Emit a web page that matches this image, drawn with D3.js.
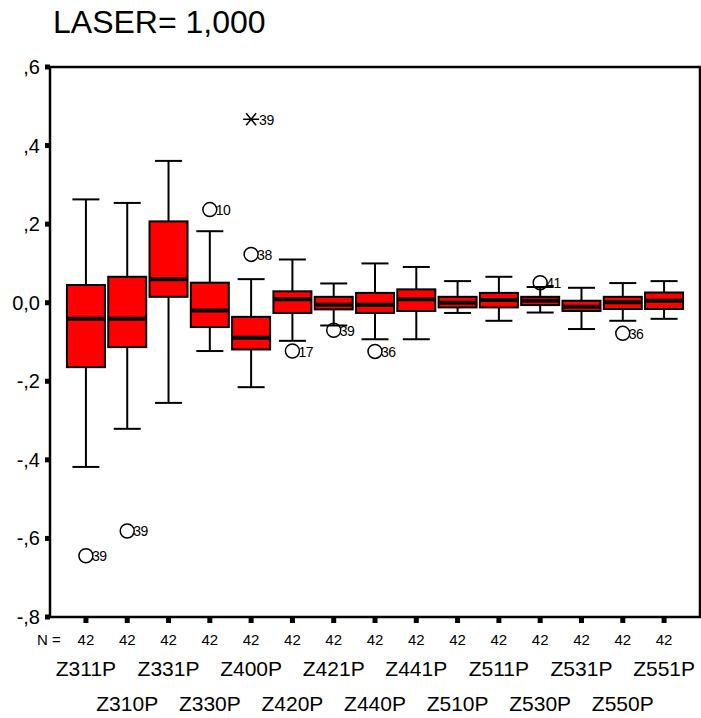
<!DOCTYPE html>
<html>
<head>
<meta charset="utf-8">
<script src="https://cdn.jsdelivr.net/npm/d3@7"></script>
<style>
  body { margin: 0; background: #fff; }
  text { font-family: "Liberation Sans", Arial, sans-serif; fill: #000; }
</style>
</head>
<body>
<figure id="chart" style="margin:0"></figure>
<script>
// categories in plotting order (labels alternate between two rows)
const categories = ["Z311P", "Z310P", "Z331P", "Z330P", "Z400P", "Z420P", "Z421P", "Z440P",
                    "Z441P", "Z510P", "Z511P", "Z530P", "Z531P", "Z550P", "Z551P"];
const nCounts    = [42, 42, 42, 42, 42, 42, 42, 42, 42, 42, 42, 42, 42, 42, 42];
const whiskerHi  = [0.263, 0.254, 0.361, 0.182, 0.060, 0.110, 0.049, 0.100, 0.091, 0.055, 0.066, 0.040, 0.038, 0.050, 0.055];
const q3         = [0.045, 0.066, 0.207, 0.051, -0.036, 0.029, 0.015, 0.025, 0.034, 0.015, 0.025, 0.015, 0.005, 0.015, 0.026];
const medians    = [-0.041, -0.041, 0.060, -0.020, -0.089, 0.009, -0.005, -0.005, 0.009, 0.000, 0.007, 0.005, -0.010, 0.001, 0.005];
const q1         = [-0.164, -0.113, 0.015, -0.062, -0.119, -0.026, -0.017, -0.026, -0.021, -0.012, -0.012, -0.006, -0.021, -0.016, -0.016];
const whiskerLo  = [-0.418, -0.321, -0.255, -0.123, -0.215, -0.097, -0.058, -0.093, -0.093, -0.026, -0.046, -0.025, -0.067, -0.046, -0.041];
// outliers: [category, value, case label]
const outliers = [
  ["Z311P", -0.644, "39"], ["Z310P", -0.581, "39"], ["Z330P", 0.237, "10"],
  ["Z400P", 0.123, "38"], ["Z420P", -0.123, "17"], ["Z421P", -0.070, "39"],
  ["Z440P", -0.124, "36"], ["Z530P", 0.051, "41"], ["Z550P", -0.078, "36"]
];
const extremes = [["Z400P", 0.467, "39"]];
const yTicks = [-0.8, -0.6, -0.4, -0.2, 0, 0.2, 0.4, 0.6];
const title = "LASER= 1,000";

const W = 701, H = 718;
const margin = {top: 67, right: 1, bottom: 101, left: 50};

const svg = d3.select("#chart").append("svg")
  .attr("width", W).attr("height", H);

const x = d3.scalePoint()
  .domain(categories)
  .range([margin.left, W - margin.right])
  .padding(0.87);

const y = d3.scaleLinear()
  .domain([-0.8, 0.6])
  .range([H - margin.bottom, margin.top]);

const fmt = v => v === 0 ? "0,0" : (v < 0 ? "-" : "") + "," + Math.round(Math.abs(v) * 10);

// title
svg.append("text")
  .attr("x", 53).attr("y", 33)
  .style("font-size", "32px")
  .text(title);

// frame
svg.append("rect")
  .attr("x", margin.left).attr("y", margin.top)
  .attr("width", W - margin.right - margin.left)
  .attr("height", H - margin.bottom - margin.top)
  .attr("fill", "none").attr("stroke", "#000").attr("stroke-width", 2.5);

// y ticks and labels
const yAxis = svg.append("g");
yAxis.selectAll("rect").data(yTicks).enter().append("rect")
  .attr("x", margin.left - 5).attr("y", d => y(d) - 2.5)
  .attr("width", 5).attr("height", 5).attr("fill", "#000");
yAxis.selectAll("text").data(yTicks).enter().append("text")
  .attr("x", 40).attr("y", d => y(d) + 7)
  .attr("text-anchor", "end")
  .style("font-size", "20px")
  .text(fmt);

// x ticks
const xAxis = svg.append("g");
const bottom = H - margin.bottom;
xAxis.selectAll("rect").data(categories).enter().append("rect")
  .attr("x", d => x(d) - 2.5).attr("y", bottom + 1)
  .attr("width", 5).attr("height", 5).attr("fill", "#000");

// N row
svg.append("text").attr("x", 37).attr("y", 645)
  .style("font-size", "15px").text("N =");
svg.append("g").selectAll("text").data(categories).enter().append("text")
  .attr("x", d => x(d)).attr("y", 645)
  .attr("text-anchor", "middle")
  .style("font-size", "15px")
  .text((d, i) => nCounts[i]);

// category labels in two staggered rows
svg.append("g").selectAll("text").data(categories).enter().append("text")
  .attr("x", d => x(d)).attr("y", (d, i) => i % 2 === 0 ? 676 : 711)
  .attr("text-anchor", "middle")
  .style("font-size", "21px")
  .text(d => d);

// boxes
const boxW = 38, capW = 27;
const boxes = svg.append("g").selectAll("g").data(categories).enter().append("g");

boxes.append("line")
  .attr("x1", d => x(d)).attr("x2", d => x(d))
  .attr("y1", (d, i) => y(whiskerHi[i])).attr("y2", (d, i) => y(whiskerLo[i]))
  .attr("stroke", "#000").attr("stroke-width", 2);
boxes.append("line")
  .attr("x1", d => x(d) - capW / 2).attr("x2", d => x(d) + capW / 2)
  .attr("y1", (d, i) => y(whiskerHi[i])).attr("y2", (d, i) => y(whiskerHi[i]))
  .attr("stroke", "#000").attr("stroke-width", 2);
boxes.append("line")
  .attr("x1", d => x(d) - capW / 2).attr("x2", d => x(d) + capW / 2)
  .attr("y1", (d, i) => y(whiskerLo[i])).attr("y2", (d, i) => y(whiskerLo[i]))
  .attr("stroke", "#000").attr("stroke-width", 2);
boxes.append("rect")
  .attr("x", d => x(d) - boxW / 2).attr("width", boxW)
  .attr("y", (d, i) => y(q3[i]))
  .attr("height", (d, i) => y(q1[i]) - y(q3[i]))
  .attr("fill", "#ff0000").attr("stroke", "#000").attr("stroke-width", 2);
boxes.append("line")
  .attr("x1", d => x(d) - boxW / 2 + 1).attr("x2", d => x(d) + boxW / 2 - 1)
  .attr("y1", (d, i) => y(medians[i])).attr("y2", (d, i) => y(medians[i]))
  .attr("stroke", "#000").attr("stroke-width", 4);

// outliers
const out = svg.append("g").selectAll("g").data(outliers).enter().append("g")
  .attr("transform", d => `translate(${x(d[0])},${y(d[1])})`);
out.append("circle").attr("r", 7)
  .attr("fill", "none").attr("stroke", "#000").attr("stroke-width", 1.5);
out.append("text").attr("x", 6).attr("y", 5.5)
  .style("font-size", "14px").style("letter-spacing", "-0.5px")
  .text(d => d[2]);

// extremes (asterisk)
const ext = svg.append("g").selectAll("g").data(extremes).enter().append("g")
  .attr("transform", d => `translate(${x(d[0])},${y(d[1])})`);
ext.append("path")
  .attr("d", "M-8,0H8M-5,-6L5,6M-5,6L5,-6")
  .attr("stroke", "#000").attr("stroke-width", 1.5).attr("fill", "none");
ext.append("text").attr("x", 8).attr("y", 5.5)
  .style("font-size", "14px").style("letter-spacing", "-0.5px")
  .text(d => d[2]);
</script>
</body>
</html>
